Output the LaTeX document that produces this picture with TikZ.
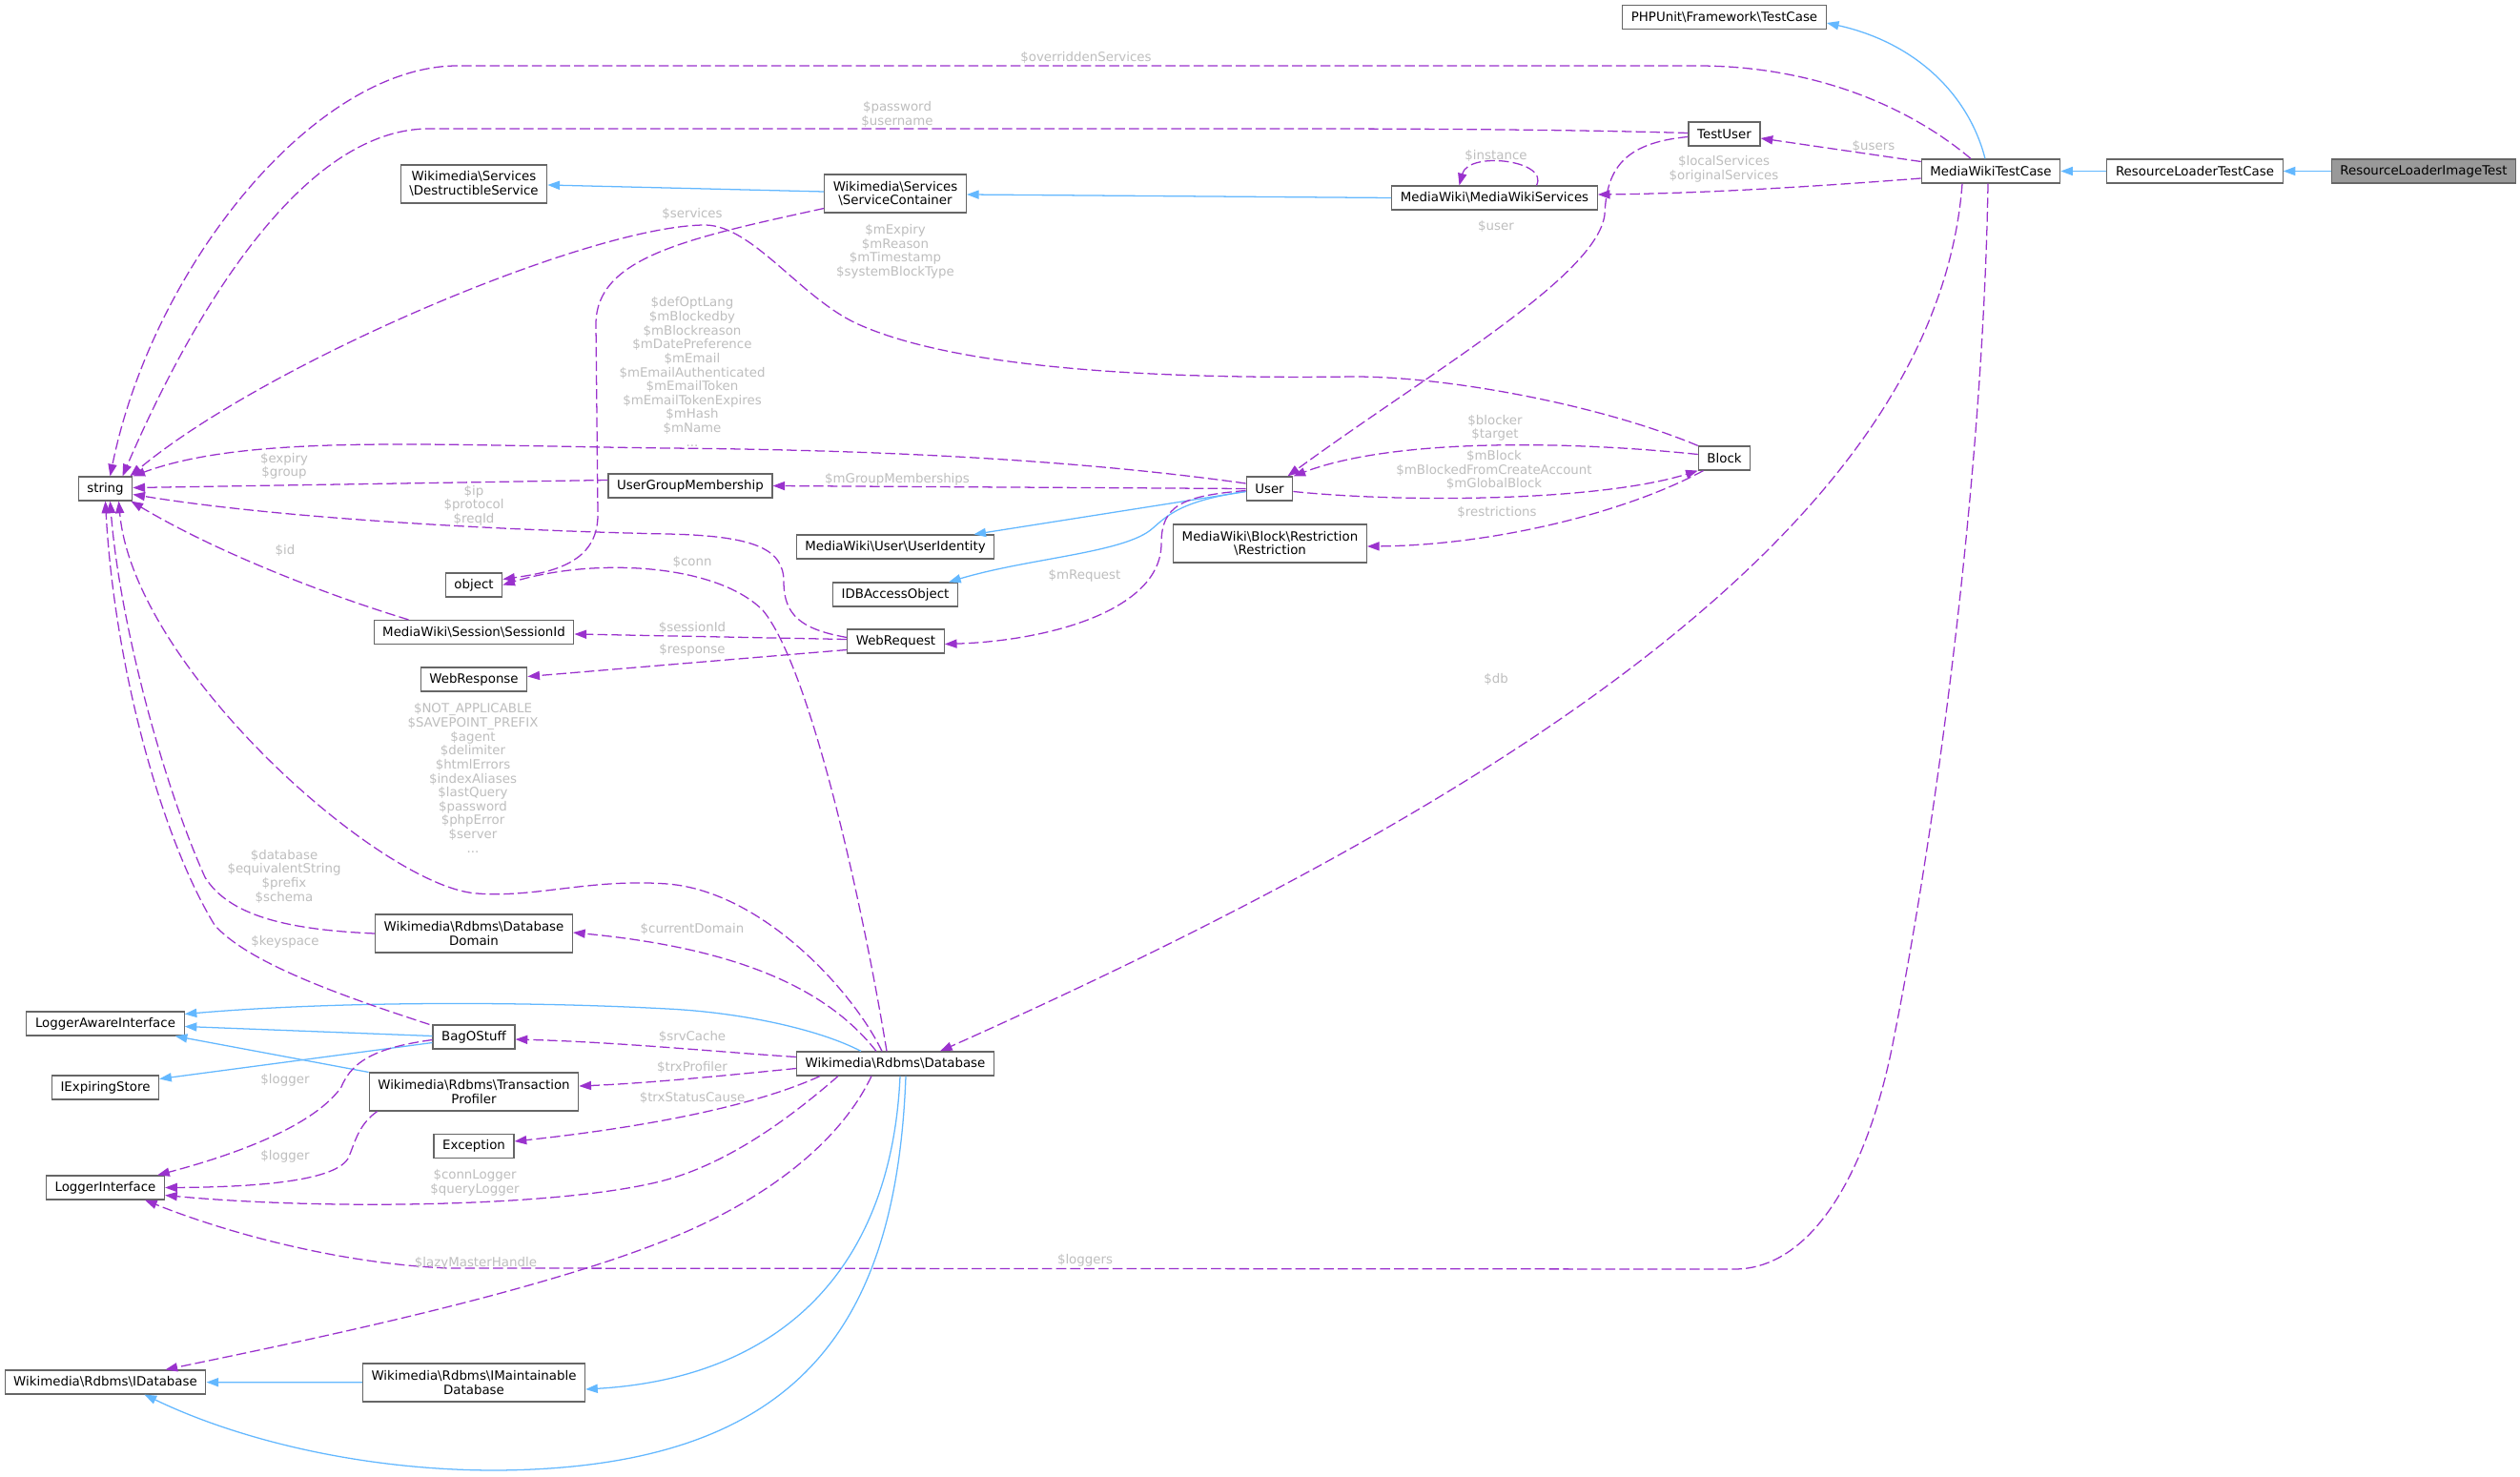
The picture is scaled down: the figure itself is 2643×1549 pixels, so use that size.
\documentclass[tikz,border=0pt]{standalone}
\usepackage{fontspec}
\setmainfont{DejaVu Sans}
\usetikzlibrary{arrows.meta, calc}

\definecolor{inhblue}{HTML}{63B8FF}
\definecolor{usepurple}{HTML}{9A32CD}
\definecolor{lblgrey}{HTML}{BEBEBE}
\definecolor{boxborder}{HTML}{666666}
\definecolor{rootfill}{HTML}{999999}
\newcommand{\bksl}{\textbackslash}

\begin{document}
\begin{tikzpicture}[x=0.025cm, y=-0.025cm]
\tikzset{
  cls/.style={draw=boxborder, line width=0.8pt, fill=white, rectangle, inner xsep=6.5pt, inner ysep=2pt, minimum height=17.8pt, align=center, font=\fontsize{9.5}{10.6}\selectfont},
  cls2/.style={cls, minimum height=28.4pt},
  rootcls/.style={cls, fill=rootfill},
  lbl/.style={text=lblgrey, inner sep=0pt, align=center, font=\fontsize{9.5}{10.4}\selectfont},
  inh/.style={draw=inhblue, line width=0.9pt, -{Triangle[length=9pt, width=6.5pt]}},
  use/.style={draw=usepurple, line width=0.9pt, dash pattern=on 7.5pt off 3pt, -{Triangle[length=9pt, width=6.5pt]}}
}
\fill[white] (0,0) rectangle (2643,1549);
\useasboundingbox (0,0) rectangle (2643,1549);

% classes
\node[rootcls] (rlit) at (2542,179.5) {ResourceLoaderImageTest};
\node[cls] (rltc) at (2302,179.5) {ResourceLoaderTestCase};
\node[cls] (mwtc) at (2088,179.5) {MediaWikiTestCase};
\node[cls] (phpunit) at (1808.5,18) {PHPUnit\bksl Framework\bksl TestCase};
\node[cls] (testuser) at (1808.5,140.5) {TestUser};
\node[cls] (mwservices) at (1567.5,207.5) {MediaWiki\bksl MediaWikiServices};
\node[cls2] (container) at (939,203) {Wikimedia\bksl Services\\\bksl ServiceContainer};
\node[cls2] (destructible) at (497,193) {Wikimedia\bksl Services\\\bksl DestructibleService};
\node[cls] (string) at (110.5,512.5) {string};
\node[cls] (ugm) at (724,509.5) {UserGroupMembership};
\node[cls] (user) at (1331.5,512.5) {User};
\node[cls] (block) at (1808.5,480.5) {Block};
\node[cls] (identity) at (939,573.5) {MediaWiki\bksl User\bksl UserIdentity};
\node[cls2] (restriction) at (1332,570) {MediaWiki\bksl Block\bksl Restriction\\\bksl Restriction};
\node[cls] (dbaccess) at (939,623.5) {IDBAccessObject};
\node[cls] (object) at (497,613.5) {object};
\node[cls] (sessionid) at (497,663) {MediaWiki\bksl Session\bksl SessionId};
\node[cls] (webrequest) at (939.5,672.5) {WebRequest};
\node[cls] (webresponse) at (497,712.5) {WebResponse};
\node[cls2] (domain) at (497,979) {Wikimedia\bksl Rdbms\bksl Database\\Domain};
\node[cls] (loggeraware) at (110.5,1073.5) {LoggerAwareInterface};
\node[cls] (bag) at (497,1087.5) {BagOStuff};
\node[cls] (database) at (939,1115.5) {Wikimedia\bksl Rdbms\bksl Database};
\node[cls] (expiring) at (110.5,1140.5) {IExpiringStore};
\node[cls2] (profiler) at (497,1145) {Wikimedia\bksl Rdbms\bksl Transaction\\Profiler};
\node[cls] (exception) at (497,1202) {Exception};
\node[cls] (logger) at (110.5,1245.5) {LoggerInterface};
\node[cls] (idatabase) at (110.5,1449.5) {Wikimedia\bksl Rdbms\bksl IDatabase};
\node[cls2] (maintainable) at (497,1450) {Wikimedia\bksl Rdbms\bksl IMaintainable\\Database};

% inheritance
\draw[inh] (rlit) -- (rltc);
\draw[inh] (rltc) -- (mwtc);
\draw[inh] ($(mwtc.north)+(-6,0)$) .. controls (2065,100) and (2010,45) .. ($(phpunit.east)+(0,6)$);
\draw[inh] (mwservices.west) -- ($(container.east)+(0,1)$);
\draw[inh] ($(container.west)+(0,-2)$) -- ($(destructible.east)+(0,1)$);
\draw[inh] ($(user.west)+(0,3)$) -- ($(identity.north east)+(-22,0)$);
\draw[inh] ($(user.west)+(0,3)$) .. controls (1240,525) and (1225,540) .. (1209,554) .. controls (1180,580) and (1080,585) .. ($(dbaccess.north east)+(-10,0)$);
\draw[inh] ($(bag.west)+(0,-1)$) -- ($(loggeraware.east)+(0,3)$);
\draw[inh] ($(bag.west)+(0,6)$) -- ($(expiring.east)+(0,-9)$);
\draw[inh] (profiler.north west) -- ($(loggeraware.south east)+(-10,0)$);
\draw[inh] ($(database.north)+(-36,0)$) .. controls (860,1080) and (780,1062) .. (700,1058) .. controls (550,1050) and (350,1050) .. ($(loggeraware.east)+(0,-10)$);
\draw[inh] (maintainable) -- (idatabase);
\draw[inh] ($(database.south)+(5,0)$) .. controls (935,1330) and (820,1445) .. ($(maintainable.east)+(0,7)$);
\draw[inh] ($(database.south)+(11,0)$) .. controls (940,1400) and (830,1540) .. (520,1542) .. controls (380,1542) and (250,1510) .. ($(idatabase.south)+(41,0)$);

% members of MediaWikiTestCase
\draw[use] ($(mwtc.north)+(-21,0)$) .. controls (2000,110) and (1900,69) .. (1780,69) -- (480,69) .. controls (330,69) and (160,280) .. ($(string.north)+(5,0)$);
\draw[use] ($(mwtc.west)+(0,-10)$) -- ($(testuser.east)+(0,4.5)$);
\draw[use] ($(mwtc.west)+(0,7.5)$) .. controls (1900,196) and (1780,203) .. ($(mwservices.east)+(0,-3.5)$);
\draw[use] ($(mwtc.south)+(-30,0)$) .. controls (2030,560) and (1550,850) .. ($(database.north)+(47,0)$);
\draw[use] ($(mwtc.south)+(-3,0)$) .. controls (2080,500) and (2030,870) .. (1987,1085) .. controls (1960,1230) and (1900,1331) .. (1819,1331) -- (470,1330) .. controls (350,1325) and (230,1290) .. ($(logger.south)+(41.5,0)$);

% TestUser, services
\draw[use] ($(testuser.west)+(0,-1)$) .. controls (1650,136) and (1500,135) .. (1350,135) -- (450,135) .. controls (300,135) and (180,380) .. ($(string.north)+(18,0)$);
\draw[use] ($(testuser.west)+(0,3)$) .. controls (1700,150) and (1685,180) .. (1683,225) .. controls (1675,290) and (1500,390) .. ($(user.north east)+(-6,0)$);
\draw[use] ($(mwservices.north)+(44,0)$) .. controls (1625,168) and (1540,158) .. ($(mwservices.north)+(-37,0)$);
\draw[use] ($(container.south west)+(0,-5)$) .. controls (720,250) and (625,270) .. (625,340) -- (627,540) .. controls (627,590) and (580,600) .. ($(object.east)+(0,-6)$);

% Block, User
\draw[use] (block.north west) .. controls (1680,425) and (1520,395) .. (1420,395) .. controls (1200,398) and (1000,385) .. (900,340) .. controls (840,313) and (790,237) .. (740,236) .. controls (620,236) and (280,380) .. ($(string.north east)+(-3,0)$);
\draw[use] ($(block.west)+(0,-4)$) .. controls (1640,462) and (1460,460) .. (user.north east);
\draw[use] ($(user.east)+(0,3)$) .. controls (1480,528) and (1680,525) .. (block.south west);
\draw[use] ($(block.south)+(-22,0)$) .. controls (1700,540) and (1560,572) .. ($(restriction.east)+(0,3)$);
\draw[use] ($(user.west)+(0,-5.5)$) .. controls (1150,485) and (950,472) .. (700,470) .. controls (450,467) and (260,455) .. (string.north east);
\draw[use] (user.west) -- (ugm.east);
\draw[use] ($(user.west)+(0,2)$) .. controls (1240,520) and (1218,530) .. (1218,570) .. controls (1218,640) and (1100,672) .. ($(webrequest.east)+(0,3)$);
\draw[use] ($(ugm.west)+(0,-6)$) -- ($(string.east)+(0,-1)$);

% WebRequest
\draw[use] ($(webrequest.west)+(0,-4)$) .. controls (840,660) and (822,645) .. (822,610) .. controls (822,575) and (790,562) .. (700,560) .. controls (550,557) and (300,545) .. ($(string.east)+(0,6)$);
\draw[use] ($(webrequest.west)+(0,-2)$) -- ($(sessionid.east)+(0,2)$);
\draw[use] ($(webrequest.west)+(0,9)$) -- ($(webresponse.east)+(0,-3)$);
\draw[use] ($(sessionid.north west)+(37,0)$) .. controls (330,620) and (220,575) .. ($(string.south east)+(-2,0)$);

% Database
\draw[use] ($(database.north)+(-9,0)$) .. controls (905,950) and (850,700) .. (800,640) .. controls (750,590) and (620,585) .. (object.east);
\draw[use] ($(database.north)+(-20,0)$) .. controls (870,1040) and (780,995) .. ($(domain.east)+(0,-1)$);
\draw[use] ($(database.north)+(-14,0)$) .. controls (895,1040) and (800,935) .. (700,927) .. controls (620,921) and (560,942) .. (500,937) .. controls (400,930) and (140,700) .. ($(string.south)+(14,0)$);
\draw[use] ($(database.west)+(0,-7)$) .. controls (750,1103) and (650,1093) .. ($(bag.east)+(0,2.5)$);
\draw[use] ($(database.west)+(0,5)$) .. controls (760,1128) and (680,1136) .. ($(profiler.east)+(0,-6)$);
\draw[use] ($(database.south)+(-79,0)$) .. controls (780,1165) and (650,1185) .. ($(exception.east)+(0,-5)$);
\draw[use] ($(database.south)+(-60,0)$) .. controls (820,1180) and (760,1220) .. (700,1237) .. controls (600,1265) and (350,1270) .. ($(logger.east)+(0,8)$);
\draw[use] ($(database.south)+(-25,0)$) .. controls (880,1200) and (800,1260) .. (700,1300) .. controls (550,1360) and (300,1410) .. ($(idatabase.north)+(63,0)$);

% BagOStuff, domain, profiler
\draw[use] ($(bag.north west)+(-3,0)$) .. controls (360,1045) and (260,1010) .. (225,970) .. controls (170,880) and (120,700) .. (string.south);
\draw[use] ($(bag.west)+(0,3)$) .. controls (400,1098) and (370,1110) .. (358,1140) .. controls (330,1180) and (250,1210) .. ($(logger.north east)+(-8,0)$);
\draw[use] (domain.west) .. controls (300,975) and (240,960) .. (215,920) .. controls (170,820) and (125,650) .. ($(string.south)+(5,0)$);
\draw[use] ($(profiler.south west)+(9,0)$) .. controls (375,1180) and (372,1200) .. (365,1215) .. controls (350,1240) and (260,1245) .. (logger.east);

% member labels
\node[lbl] (lOverridden) at (1139,60) {\$overriddenServices};
\node[lbl] (lPassword) at (941,120) {\$password\\\$username};
\node[lbl] (lUsers) at (1965,153) {\$users};
\node[lbl] (lLocal) at (1808,177.5) {\$localServices\\\$originalServices};
\node[lbl] (lInstance) at (1569,163) {\$instance};
\node[lbl] (lServices) at (726,224) {\$services};
\node[lbl] (lBlockStr) at (939,264) {\$mExpiry\\\$mReason\\\$mTimestamp\\\$systemBlockType};
\node[lbl] (lUser) at (1569,237.5) {\$user};
\node[lbl] (lUserStr) at (726,390) {\$defOptLang\\\$mBlockedby\\\$mBlockreason\\\$mDatePreference\\\$mEmail\\\$mEmailAuthenticated\\\$mEmailToken\\\$mEmailTokenExpires\\\$mHash\\\$mName\\...};
\node[lbl] (lBlocker) at (1568,449) {\$blocker\\\$target};
\node[lbl] (lGroup) at (298,489) {\$expiry\\\$group};
\node[lbl] (lGroupMem) at (941,503) {\$mGroupMemberships};
\node[lbl] (lMBlock) at (1567,493) {\$mBlock\\\$mBlockedFromCreateAccount\\\$mGlobalBlock};
\node[lbl] (lIp) at (497,530) {\$ip\\\$protocol\\\$reqId};
\node[lbl] (lRestrictions) at (1570,537.5) {\$restrictions};
\node[lbl] (lId) at (299,577) {\$id};
\node[lbl] (lConn) at (726,589) {\$conn};
\node[lbl] (lRequest) at (1137.5,604) {\$mRequest};
\node[lbl] (lSessionId) at (726,658) {\$sessionId};
\node[lbl] (lResponse) at (726,682) {\$response};
\node[lbl] (lDb) at (1569,712) {\$db};
\node[lbl] (lDbStr) at (496,816) {\$NOT\_APPLICABLE\\\$SAVEPOINT\_PREFIX\\\$agent\\\$delimiter\\\$htmlErrors\\\$indexAliases\\\$lastQuery\\\$password\\\$phpError\\\$server\\...};
\node[lbl] (lDomainStr) at (298,919) {\$database\\\$equivalentString\\\$prefix\\\$schema};
\node[lbl] (lCurDomain) at (726,974) {\$currentDomain};
\node[lbl] (lKeyspace) at (299,988) {\$keyspace};
\node[lbl] (lSrvCache) at (726,1087) {\$srvCache};
\node[lbl] (lTrxProfiler) at (726,1119) {\$trxProfiler};
\node[lbl] (lBagLogger) at (299,1133) {\$logger};
\node[lbl] (lTrxStatus) at (726,1151) {\$trxStatusCause};
\node[lbl] (lProfLogger) at (299,1213) {\$logger};
\node[lbl] (lConnLogger) at (498,1240) {\$connLogger\\\$queryLogger};
\node[lbl] (lLazy) at (499,1325) {\$lazyMasterHandle};
\node[lbl] (lLoggers) at (1138,1322) {\$loggers};
\end{tikzpicture}
\end{document}
